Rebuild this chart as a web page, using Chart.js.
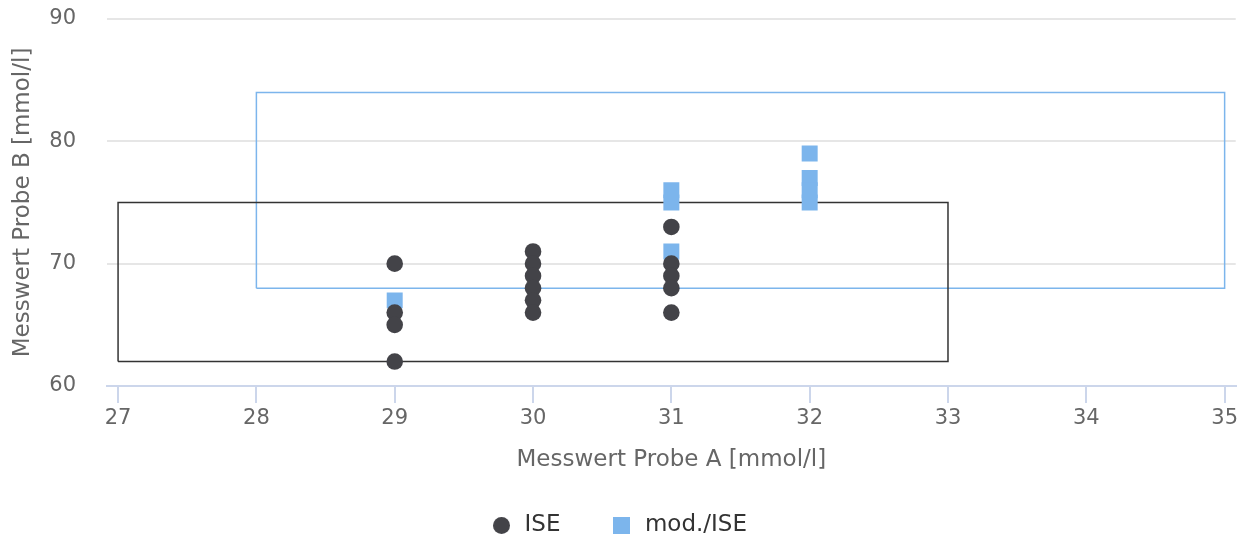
<!DOCTYPE html>
<html>
<head>
<meta charset="utf-8">
<script src="https://cdn.jsdelivr.net/npm/chart.js@4/dist/chart.umd.min.js"></script>
<style>
  html, body { margin: 0; padding: 0; background: #fff; }
  #wrap { width: 1247px; height: 535px; }
</style>
</head>
<body>
<div id="wrap"><canvas id="chart"></canvas></div>
<script>
// ISE measurements (Probe A / Probe B)
const iseX = [29, 29, 29, 29, 30, 30, 30, 30, 30, 30, 31, 31, 31, 31, 31];
const iseY = [70, 66, 65, 62, 71, 70, 69, 68, 67, 66, 73, 70, 69, 68, 66];

// mod./ISE measurements
const modX = [29, 31, 31, 31, 32, 32, 32, 32];
const modY = [67, 76, 75, 71, 79, 77, 76, 75];

// target ranges: [xMin, xMax, yMin, yMax]
const iseRange = [27, 33, 62, 75];
const modRange = [28, 35, 68, 84];

const xTicks = [27, 28, 29, 30, 31, 32, 33, 34, 35];
const yTicks = [60, 70, 80, 90];

const seriesNames = ['ISE', 'mod./ISE'];
const seriesColors = ['#434348', '#7cb5ec'];

function pairs(xs, ys) {
    return xs.map((x, i) => ({ x: x, y: ys[i] }));
}

// closed rectangle outline from a range
function rangeOutline(r) {
    return [
        { x: r[0], y: r[2] }, { x: r[1], y: r[2] },
        { x: r[1], y: r[3] }, { x: r[0], y: r[3] },
        { x: r[0], y: r[2] }
    ];
}

// small legend markers, circle and square of the same size
function marker(shape, color) {
    const c = document.createElement('canvas');
    c.width = 17;
    c.height = 17;
    const ctx = c.getContext('2d');
    ctx.fillStyle = color;
    if (shape === 'circle') {
        ctx.beginPath();
        ctx.arc(8.5, 8.5, 8.5, 0, Math.PI * 2);
        ctx.fill();
    } else {
        ctx.fillRect(0, 0, 17, 17);
    }
    return c;
}
const legendMarkers = [marker('circle', seriesColors[0]), marker('rect', seriesColors[1])];

const font = 'DejaVu Sans';

new Chart(document.getElementById('chart'), {
    type: 'scatter',
    data: {
        datasets: [{
            label: seriesNames[0],
            data: pairs(iseX, iseY),
            pointStyle: 'circle',
            pointRadius: 8.3,
            pointHoverRadius: 8.3,
            backgroundColor: seriesColors[0],
            borderWidth: 0
        }, {
            label: seriesNames[1],
            data: pairs(modX, modY),
            pointStyle: 'rect',
            pointRadius: 11.3,
            pointHoverRadius: 11.3,
            backgroundColor: seriesColors[1],
            borderWidth: 0
        }, {
            label: 'ise-range',
            data: rangeOutline(iseRange),
            showLine: true,
            pointRadius: 0,
            borderColor: '#333333',
            borderWidth: 1.5,
            fill: false
        }, {
            label: 'mod-range',
            data: rangeOutline(modRange),
            showLine: true,
            pointRadius: 0,
            borderColor: seriesColors[1],
            borderWidth: 1.5,
            fill: false
        }]
    },
    options: {
        responsive: true,
        maintainAspectRatio: false,
        animation: false,
        layout: { padding: { top: 19, right: 10, left: 0, bottom: -12 } },
        plugins: {
            tooltip: { enabled: false },
            legend: {
                position: 'bottom',
                labels: {
                    usePointStyle: true,
                    padding: 50,
                    color: '#333333',
                    font: { family: font, size: 23 },
                    generateLabels: chart => seriesNames.map((name, i) => ({
                        text: name,
                        fontColor: '#333333',
                        pointStyle: legendMarkers[i],
                        datasetIndex: i,
                        hidden: false,
                        lineWidth: 0
                    }))
                }
            }
        },
        scales: {
            x: {
                type: 'linear',
                min: 26.92,
                max: 35.08,
                afterBuildTicks: scale => { scale.ticks = xTicks.map(v => ({ value: v })); },
                afterFit: scale => { scale.height = 78; },
                grid: {
                    drawOnChartArea: false,
                    drawTicks: true,
                    tickLength: 17,
                    color: '#ccd6eb',
                    lineWidth: 2
                },
                border: { color: '#ccd6eb', width: 2 },
                ticks: {
                    padding: 3,
                    color: '#666666',
                    font: { family: font, size: 21 }
                },
                title: {
                    display: true,
                    text: 'Messwert Probe A [mmol/l]',
                    color: '#666666',
                    font: { family: font, size: 23 },
                    padding: { top: 0, bottom: -10 }
                }
            },
            y: {
                type: 'linear',
                min: 60,
                max: 90,
                afterBuildTicks: scale => { scale.ticks = yTicks.map(v => ({ value: v })); },
                afterFit: scale => { scale.width = 107; },
                grid: {
                    drawTicks: true,
                    tickLength: 31,
                    tickColor: 'rgba(0,0,0,0)',
                    color: '#e6e6e6',
                    lineWidth: 2
                },
                border: { display: false },
                ticks: {
                    padding: 0,
                    color: '#666666',
                    font: { family: font, size: 21 }
                },
                title: {
                    display: true,
                    text: 'Messwert Probe B [mmol/l]',
                    color: '#666666',
                    font: { family: font, size: 23 },
                    padding: { top: 9, bottom: 0 }
                }
            }
        }
    }
});
</script>
</body>
</html>
